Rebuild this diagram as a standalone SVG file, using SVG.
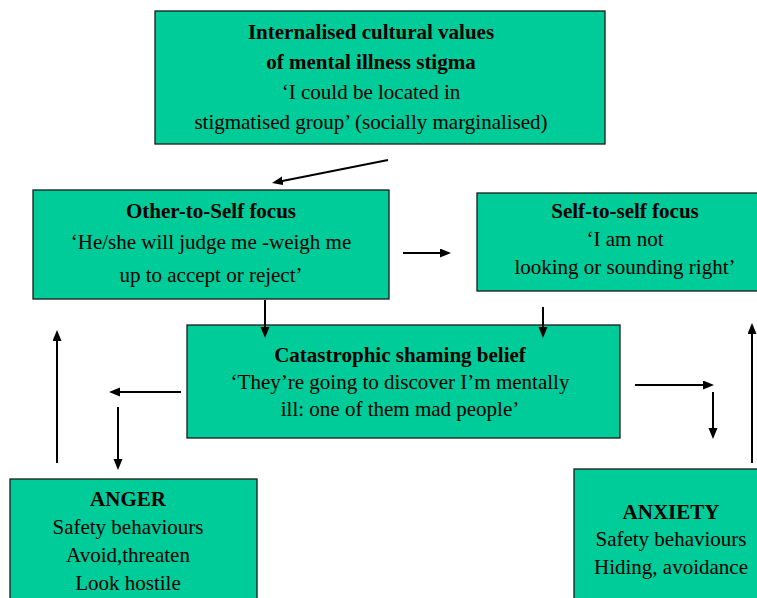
<svg xmlns="http://www.w3.org/2000/svg" width="757" height="598" viewBox="0 0 757 598">
<style>
.box{fill:#00CC99;stroke:#1a1a1a;stroke-width:1.3}
text{font-family:"Liberation Serif","Times New Roman",serif;font-size:21px;fill:#000;text-anchor:middle}
.b{font-weight:bold}
.ar{stroke:#000;stroke-width:2;fill:none;marker-end:url(#ah)}
</style>
<defs>
<marker id="ah" markerUnits="userSpaceOnUse" markerWidth="13" markerHeight="11" refX="3" refY="4.5" orient="auto">
<path d="M0,0 L11,4.5 L0,9 z" fill="#000"/>
</marker>
</defs>
<rect width="757" height="598" fill="#fff"/>
<g id="internalised">
<rect class="box" x="155" y="11" width="450" height="133"/>
<text class="b" x="371" y="39">Internalised cultural values</text>
<text class="b" x="371" y="69">of mental illness stigma</text>
<text x="371" y="99">‘I could be located in</text>
<text x="371" y="129">stigmatised group’ (socially marginalised)</text>
</g>
<g id="other-to-self">
<rect class="box" x="33" y="190" width="356" height="109"/>
<text class="b" x="211" y="218">Other-to-Self focus</text>
<text x="211" y="249">‘He/she will judge me -weigh me</text>
<text x="211" y="282">up to accept or reject’</text>
</g>
<g id="self-to-self">
<rect class="box" x="477" y="193" width="281" height="98"/>
<text class="b" x="625" y="218">Self-to-self focus</text>
<text x="625" y="246">‘I am not</text>
<text x="625" y="274">looking or sounding right’</text>
</g>
<g id="catastrophic">
<rect class="box" x="187" y="325" width="433" height="113"/>
<text class="b" x="400" y="362">Catastrophic shaming belief</text>
<text x="400" y="389">‘They’re going to discover I’m mentally</text>
<text x="400" y="416">ill: one of them mad people’</text>
</g>
<g id="anger">
<rect class="box" x="10" y="479" width="247" height="125"/>
<text class="b" x="128" y="506">ANGER</text>
<text x="128" y="534">Safety behaviours</text>
<text x="128" y="562">Avoid,threaten</text>
<text x="128" y="590">Look hostile</text>
</g>
<g id="anxiety">
<rect class="box" x="574" y="469" width="190" height="135"/>
<text class="b" x="671" y="519">ANXIETY</text>
<text x="671" y="546">Safety behaviours</text>
<text x="671" y="574">Hiding, avoidance</text>
</g>
<g id="connectors">
<line class="ar" x1="388" y1="160" x2="279.8" y2="181.4"/>
<line class="ar" x1="403" y1="253" x2="443" y2="253"/>
<line class="ar" x1="265" y1="300" x2="265" y2="330"/>
<line class="ar" x1="543" y1="307" x2="543" y2="330"/>
<line class="ar" x1="181" y1="392" x2="117" y2="392"/>
<line class="ar" x1="118" y1="407" x2="118" y2="462"/>
<line class="ar" x1="57" y1="463" x2="57" y2="338"/>
<line class="ar" x1="635" y1="385" x2="706" y2="385"/>
<line class="ar" x1="713" y1="392" x2="713" y2="431"/>
<line class="ar" x1="752" y1="463" x2="752" y2="331"/>
</g>
</svg>
